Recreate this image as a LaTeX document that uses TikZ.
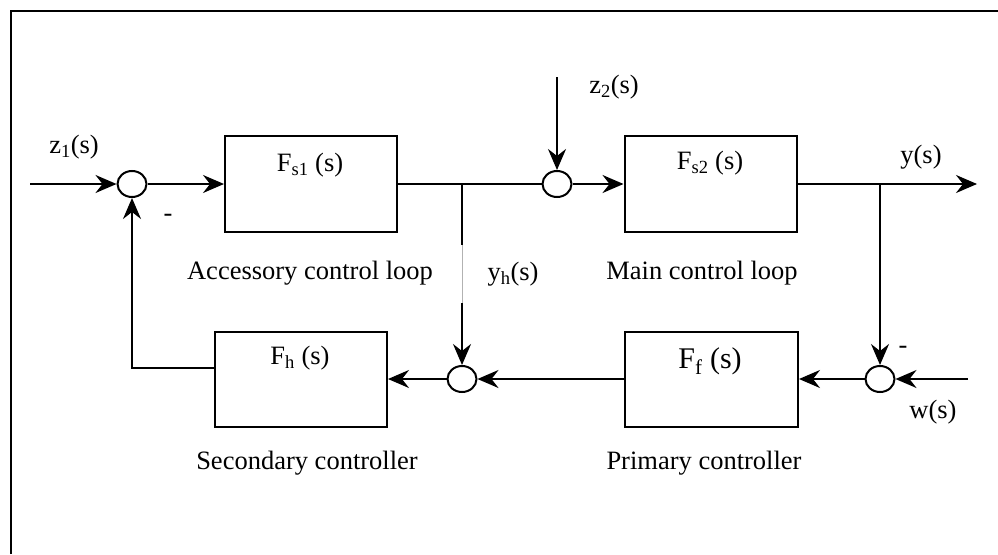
\documentclass[tikz,border=0pt]{standalone}
\usepackage{fontspec}
\setmainfont{Liberation Serif}
\usetikzlibrary{arrows.meta,shapes.geometric,positioning}

\begin{document}
\begin{tikzpicture}[x=1pt,y=-1pt,line cap=butt,line join=miter,>={Stealth[length=21pt,width=18pt,inset=7pt]},
  every node/.style={inner sep=1pt,font=\fontsize{26.5}{30}\selectfont},
  blk/.style={draw,line width=2pt,minimum width=172pt,minimum height=96pt},
  sum/.style={draw,ellipse,line width=2pt,minimum width=29pt,minimum height=26pt,inner sep=0pt},
  sig/.style={line width=2pt}]
  \useasboundingbox (0,0) rectangle (998,554);
  \draw[line width=2pt] (11,554) -- (11,11) -- (998,11);
  \def\ytop{184}
  \def\ybot{379}
  \node[sum] (sumA) at (132,\ytop) {};
  \node[blk] (fsA) at (311,\ytop) {};
  \node[sum] (sumB) at (557,\ytop) {};
  \node[blk] (fsB) at (710.5,\ytop) {};
  \node[blk,minimum height=95pt] (fh) at (301,\ybot) {};
  \node[blk,minimum width=173pt,minimum height=95pt] (ff) at (711.5,\ybot) {};
  \node[sum] (sumC) at (462,\ybot) {};
  \node[sum] (sumD) at (880,\ybot) {};
  \coordinate (zInA) at (30,\ytop);
  \coordinate (zInB) at (557,77);
  \coordinate (brA) at (462,\ytop);
  \coordinate (gapA) at (462,245);
  \coordinate (gapB) at (462,303);
  \coordinate (brB) at (880,\ytop);
  \coordinate (yOut) at (977,\ytop);
  \coordinate (wIn) at (968,\ybot);
  \coordinate (fhOut) at (215,368);
  \node (fsAtxt) at (310,165) {F\textsubscript{s1} (s)};
  \node (fsBtxt) at (710,163) {F\textsubscript{s2} (s)};
  \node (fhtxt) at (300,358) {F\textsubscript{h} (s)};
  \node[font=\fontsize{30}{34}\selectfont] (fftxt) at (710,361) {F\textsubscript{f} (s)};
  \draw[sig,->] (zInA) -- (sumA);
  \draw[sig,->] (sumA) -- (fsA);
  \draw[sig] (fsA) -- (sumB);
  \draw[sig,->] (zInB) -- (sumB);
  \draw[sig,->] (sumB) -- (fsB);
  \draw[sig,->] (fsB) -- (yOut);
  \draw[sig] (brA) -- (gapA);
  \draw[gray!60,line width=0.8pt] (gapA) -- (gapB);
  \draw[sig,->] (gapB) -- (sumC);
  \draw[sig,->] (brB) -- (sumD);
  \draw[sig,->] (wIn) -- (sumD);
  \draw[sig,->] (sumD) -- (ff);
  \draw[sig,->] (ff) -- (sumC);
  \draw[sig,->] (sumC) -- (fh);
  \draw[sig,->] (fhOut) -| (sumA);
  \node (zAlbl) at (74,147) {z\textsubscript{1}(s)};
  \node (zBlbl) at (614,87) {z\textsubscript{2}(s)};
  \node (ylbl) at (921,157) {y(s)};
  \node (yhlbl) at (513,274) {y\textsubscript{h}(s)};
  \node (wlbl) at (933,412) {w(s)};
  \node (negA) at (168,218) {-};
  \node (negD) at (903,350) {-};
  \node (acclbl) at (310,273) {Accessory control loop};
  \node (mainlbl) at (702,273) {Main control loop};
  \node (seclbl) at (307,463) {Secondary controller};
  \node (primlbl) at (704,463) {Primary controller};
\end{tikzpicture}
\end{document}
